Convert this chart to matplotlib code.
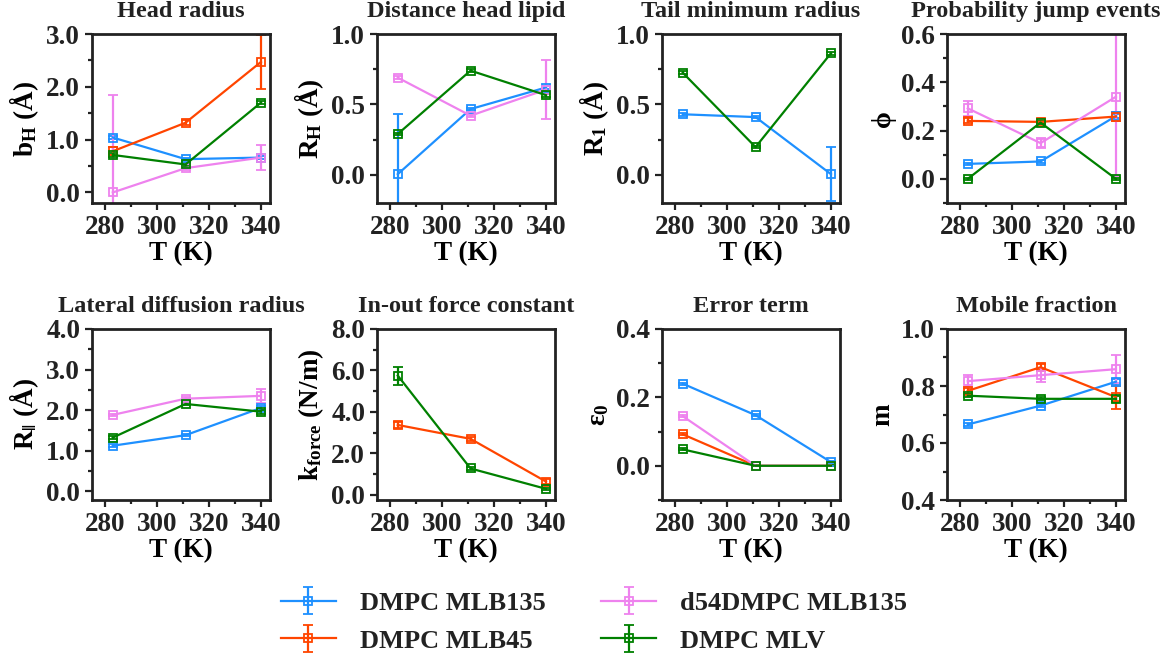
import matplotlib
matplotlib.use("Agg")
import matplotlib.pyplot as plt
from matplotlib.ticker import MultipleLocator, FormatStrFormatter
import numpy as np

plt.rcParams['font.family'] = ['Liberation Serif', 'DejaVu Serif']
plt.rcParams['font.weight'] = 'bold'
plt.rcParams['mathtext.fontset'] = 'custom'
plt.rcParams['mathtext.rm'] = 'Liberation Serif:bold'
plt.rcParams['mathtext.it'] = 'Liberation Serif:bold:italic'
plt.rcParams['mathtext.bf'] = 'Liberation Serif:bold'
plt.rcParams['text.color'] = '#222222'

T = [283, 311, 340]

series_names = ['DMPC MLB135', 'DMPC MLB45', 'd54DMPC MLB135', 'DMPC MLV']
series_colors = ['dodgerblue', 'orangered', 'violet', 'green']

# each panel: values / errors per series (None = series not in panel)
head_val = [[1.04, 0.63, 0.66], [0.78, 1.32, 2.47], [0.0, 0.46, 0.66], [0.71, 0.53, 1.70]]
head_err = [[0.03, 0.03, 0.03], [0.08, 0.05, 0.52], [1.84, 0.03, 0.23], [0.03, 0.03, 0.03]]

dist_val = [[0.005, 0.467, 0.62], None, [0.69, 0.42, 0.605], [0.29, 0.74, 0.566]]
dist_err = [[0.43, 0.01, 0.01], None, [0.01, 0.01, 0.21], [0.01, 0.01, 0.01]]

tail_val = [[0.43, 0.41, 0.005], None, None, [0.725, 0.197, 0.863]]
tail_err = [[0.01, 0.01, 0.19], None, None, [0.01, 0.01, 0.01]]

jump_val = [[0.062, 0.072, 0.26], [0.24, 0.236, 0.258], [0.292, 0.148, 0.34], [0.0, 0.233, 0.0]]
jump_err = [[0.005, 0.005, 0.01], [0.01, 0.005, 0.02], [0.03, 0.02, 0.33], [0.003, 0.005, 0.003]]

lat_val = [[1.12, 1.38, 2.05], None, [1.88, 2.28, 2.35], [1.32, 2.15, 1.96]]
lat_err = [[0.03, 0.03, 0.05], None, [0.03, 0.05, 0.17], [0.03, 0.03, 0.05]]

force_val = [None, [3.37, 2.70, 0.64], None, [5.75, 1.27, 0.29]]
force_err = [None, [0.15, 0.08, 0.1], None, [0.44, 0.05, 0.05]]

error_val = [[0.24, 0.148, 0.011], [0.092, 0.0, 0.0], [0.145, 0.0, 0.0], [0.048, 0.0, 0.0]]
error_err = [[0.003, 0.003, 0.003], [0.003, 0.002, 0.002], [0.003, 0.002, 0.002], [0.003, 0.002, 0.002]]

mob_val = [[0.665, 0.731, 0.815], [0.783, 0.866, 0.761], [0.817, 0.838, 0.859], [0.766, 0.755, 0.755]]
mob_err = [[0.005, 0.005, 0.01], [0.01, 0.01, 0.04], [0.02, 0.025, 0.05], [0.005, 0.005, 0.01]]

panels = [
    ("Head radius", r"b$_\mathrm{H}$ (Å)", head_val, head_err, (-0.2, 3.0), 1.0, 0.5),
    ("Distance head lipid", r"R$_\mathrm{H}$ (Å)", dist_val, dist_err, (-0.2, 1.0), 0.5, 0.25),
    ("Tail minimum radius", r"R$_\mathrm{1}$ (Å)", tail_val, tail_err, (-0.2, 1.0), 0.5, 0.25),
    ("Probability jump events", "ϕ", jump_val, jump_err, (-0.1, 0.6), 0.2, 0.1),
    ("Lateral diffusion radius", r"R$_{\Vert}$ (Å)", lat_val, lat_err, (-0.22, 4.0), 1.0, 0.5),
    ("In-out force constant", r"k$_\mathrm{force}$ (N/m)", force_val, force_err, (-0.25, 8.0), 2.0, 1.0),
    ("Error term", r"ε$_0$", error_val, error_err, (-0.1, 0.4), 0.2, 0.1),
    ("Mobile fraction", "m", mob_val, mob_err, (0.4, 1.0), 0.2, 0.1),
]

W, H = 1176, 663
fig = plt.figure(figsize=(W / 100, H / 100), dpi=100)

lefts = [92, 377, 662, 947]
rows = [(34, 203), (329, 500)]
axw = 178

handles = {}
for i, (title, ylab, vals, errs, ylim, major, minor) in enumerate(panels):
    top, bot = rows[i // 4]
    left = lefts[i % 4]
    ax = fig.add_axes([left / W, (H - bot) / H, axw / W, (bot - top) / H])
    for k in range(4):
        if vals[k] is None:
            continue
        h = ax.errorbar(T, vals[k], yerr=errs[k], color=series_colors[k], marker='s',
                        markersize=6, markerfacecolor='none', markeredgewidth=1.3,
                        linewidth=1.6, capsize=3.5, capthick=1.6, elinewidth=1.6,
                        label=series_names[k])
        handles[k] = h
    ax.set_xlim(275, 343.5)
    ax.set_ylim(*ylim)
    ax.xaxis.set_major_locator(MultipleLocator(20))
    ax.xaxis.set_minor_locator(MultipleLocator(10))
    ax.yaxis.set_major_locator(MultipleLocator(major))
    ax.yaxis.set_minor_locator(MultipleLocator(minor))
    ax.yaxis.set_major_formatter(FormatStrFormatter('%.1f'))
    ax.tick_params(which='major', length=5, width=1.6, labelsize=19.5, colors='#222222')
    ax.tick_params(which='minor', length=3, width=1.6, colors='#222222')
    for sp in ax.spines.values():
        sp.set_linewidth(2)
        sp.set_color('#222222')
    ax.set_title(title, fontsize=17.5, fontweight='bold', pad=12)
    ax.set_xlabel("T (K)", fontsize=19.5, fontweight='bold', labelpad=1)
    ax.set_ylabel(ylab, fontsize=19.5, fontweight='bold', labelpad=4)

fig.legend([handles[0], handles[1], handles[2], handles[3]], series_names,
           loc='center', bbox_to_anchor=(594 / W, 1 - 622 / H), ncol=2,
           frameon=False, fontsize=19, handlelength=2.1, handletextpad=0.9,
           columnspacing=2.1, labelspacing=0.55)

fig.savefig("out.png", dpi=100)
